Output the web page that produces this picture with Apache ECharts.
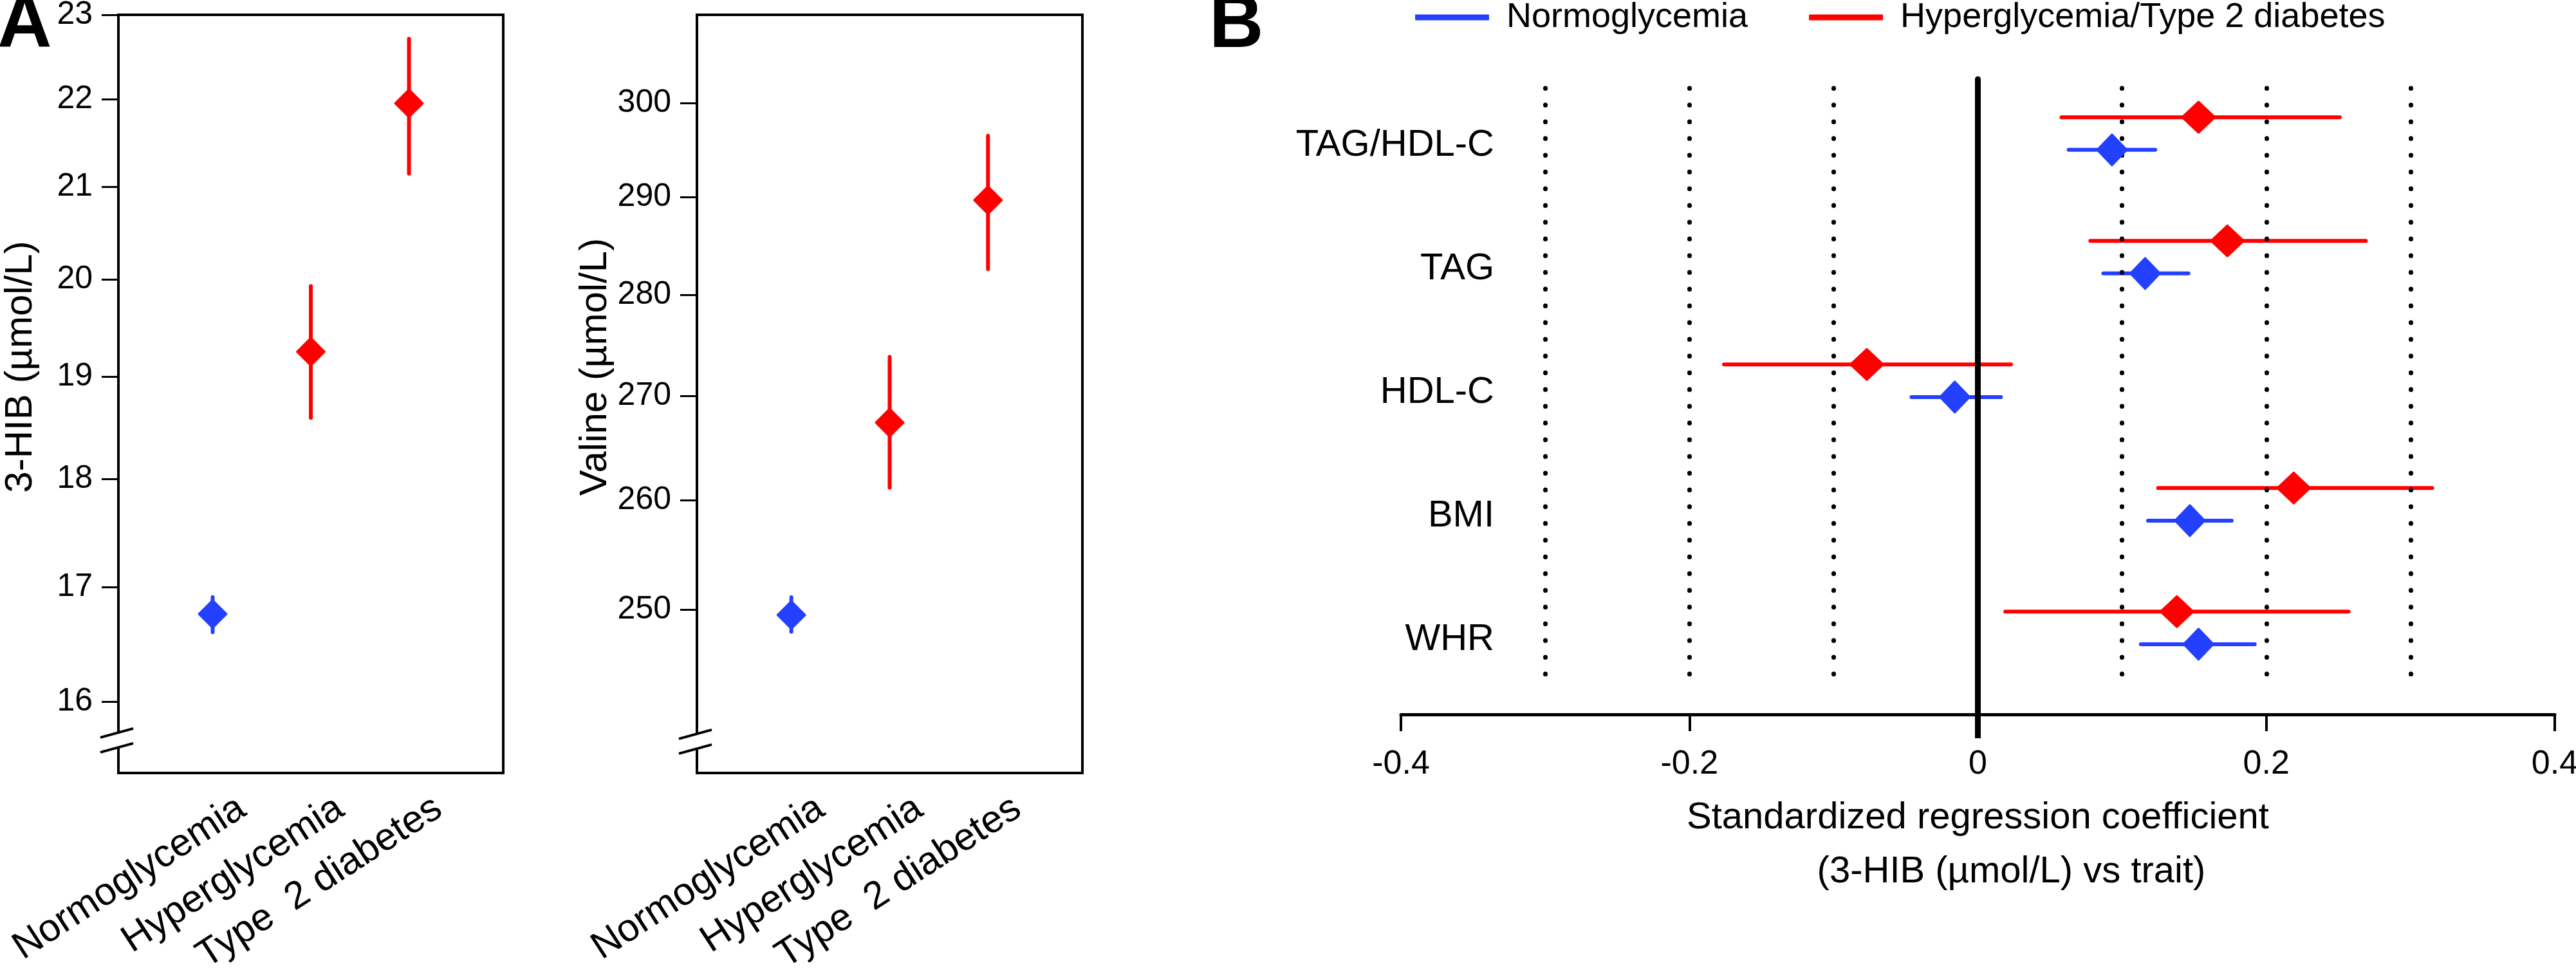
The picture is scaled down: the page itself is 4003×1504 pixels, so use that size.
<!DOCTYPE html>
<html><head><meta charset="utf-8">
<script src="https://cdn.jsdelivr.net/npm/echarts@6/dist/echarts.min.js"></script>
<style>html,body{margin:0;padding:0;background:#fff}#c{width:4003px;height:1504px}</style>
</head><body><div id="c"></div>
<script>
// ---------------- data ----------------
const groupsA = ['Normoglycemia', 'Hyperglycemia', 'Type  2 diabetes'];
const hibMean = [16.76, 19.25, 21.95];
const hibLo   = [16.60, 18.59, 21.15];
const hibHi   = [16.91, 19.93, 22.71];
const hibTicks = [16, 17, 18, 19, 20, 21, 22, 23];
const valMean = [249.5, 267.4, 289.7];
const valLo   = [248.0, 261.2, 282.6];
const valHi   = [251.1, 273.8, 296.5];
const valTicks = [250, 260, 270, 280, 290, 300];
const groupColorIdx = [0, 1, 1]; // 0 = normoglycemia colour, 1 = hyperglycemia colour

const traitsB = ['TAG/HDL-C', 'TAG', 'HDL-C', 'BMI', 'WHR'];
const normoEst = [0.093, 0.116, -0.016, 0.147, 0.153];
const normoLo  = [0.063, 0.087, -0.046, 0.118, 0.113];
const normoHi  = [0.123, 0.146, 0.016, 0.176, 0.192];
const hyperEst = [0.153, 0.173, -0.077, 0.219, 0.138];
const hyperLo  = [0.058, 0.078, -0.176, 0.125, 0.019];
const hyperHi  = [0.251, 0.269, 0.023, 0.315, 0.257];
const ticksB = [-0.4, -0.2, 0, 0.2, 0.4];
const refLinesB = [-0.3, -0.2, -0.1, 0.1, 0.2, 0.3];
const seriesNamesB = ['Normoglycemia', 'Hyperglycemia/Type 2 diabetes'];

// ---------------- style / layout ----------------
const BLUE = '#2340FF', RED = '#FF0000', BLACK = '#000';
const COLORS = [BLUE, RED];
const FONT = '"Liberation Sans", Arial, Helvetica, sans-serif';
const X_MIN_A = 0.04, X_MAX_A = 3.96, LABEL_SHIFT = 0.30;
const ROW_OFF = 0.132;       // vertical offset of the two groups inside a row (panel B)
const ROW_LABEL_DY = 0.094;  // row labels sit slightly below the row centre
const Y_MIN_B = 0.56, Y_MAX_B = 5.70, DOT_TOP = 0.633, DOT_BOT = 5.503;

function errBarV() {
  return function (params, api) {
    const x = api.value(0);
    const p1 = api.coord([x, api.value(1)]);
    const p2 = api.coord([x, api.value(2)]);
    const c = COLORS[api.value(3)];
    return {type: 'line', shape: {x1: p1[0], y1: p1[1], x2: p2[0], y2: p2[1]},
            style: {stroke: c, lineWidth: 6, lineCap: 'round'}};
  };
}
function errBarH(color) {
  return function (params, api) {
    const y = api.value(2);
    const p1 = api.coord([api.value(0), y]);
    const p2 = api.coord([api.value(1), y]);
    return {type: 'line', shape: {x1: p1[0], y1: p1[1], x2: p2[0], y2: p2[1]},
            style: {stroke: color, lineWidth: 6, lineCap: 'round'}};
  };
}

function catAxis(gridIndex) {
  return {
    type: 'value', gridIndex, min: X_MIN_A, max: X_MAX_A, position: 'bottom',
    axisLine: {show: false, onZero: false}, axisTick: {show: false}, splitLine: {show: false},
    axisLabel: {
      customValues: groupsA.map((g, i) => i + 1 + LABEL_SHIFT),
      formatter: v => groupsA[Math.round(v - LABEL_SHIFT) - 1],
      rotate: 33, margin: 50, fontSize: 60, fontFamily: FONT, color: BLACK
    }
  };
}
function logAxis(gridIndex, min, max, ticks, name) {
  return {
    type: 'log', logBase: 10, gridIndex, min, max, position: 'left',
    name, nameLocation: 'middle', nameGap: 122,
    nameTextStyle: {fontSize: 60, fontFamily: FONT, color: BLACK, padding: [0, 0, 0, 84]},
    axisLine: {show: false, onZero: false},
    axisTick: {show: true, customValues: ticks, length: 26, lineStyle: {color: BLACK, width: 3}},
    axisLabel: {customValues: ticks, formatter: v => String(Math.round(v)), margin: 40,
                fontSize: 50, fontFamily: FONT, color: BLACK},
    splitLine: {show: false}
  };
}
function diamondStyle(c) {
  return {color: c, borderColor: c, borderWidth: 3, borderJoin: 'round', opacity: 1};
}

const option = {
  animation: false,
  backgroundColor: '#fff',
  grid: [
    {left: 184, top: 23, width: 598, height: 1178, show: true, borderColor: BLACK, borderWidth: 4, backgroundColor: 'transparent', outerBoundsMode: 'none'},
    {left: 1083, top: 23, width: 599, height: 1178, show: true, borderColor: BLACK, borderWidth: 4, backgroundColor: 'transparent', outerBoundsMode: 'none'},
    {left: 2177, top: 123, width: 1793, height: 987, show: false, outerBoundsMode: 'none'}
  ],
  legend: {
    left: 2199, top: 0, padding: 0, itemWidth: 113, itemHeight: 7, itemGap: 95, icon: 'rect',
    selectedMode: false, data: seriesNamesB,
    textStyle: {fontSize: 54, fontFamily: FONT, color: BLACK, padding: [0, 0, 0, 23]}
  },
  xAxis: [
    catAxis(0),
    catAxis(1),
    {
      type: 'value', gridIndex: 2, min: -0.4, max: 0.4, interval: 0.2, position: 'bottom',
      axisLine: {show: true, onZero: false, lineStyle: {color: BLACK, width: 5}},
      axisTick: {show: true, length: 26, lineStyle: {color: BLACK, width: 4}},
      axisLabel: {margin: 52, fontSize: 52, fontFamily: FONT, color: BLACK,
                  customValues: ticksB, formatter: v => (Math.abs(v) < 1e-9 ? '0' : String(+v.toFixed(1)))},
      splitLine: {show: false},
      name: '{a|Standardized regression coefficient}\n{b|(3-HIB (µmol/L) vs trait)}',
      nameLocation: 'middle', nameGap: 119,
      nameTextStyle: {
        fontFamily: FONT, color: BLACK,
        rich: {
          a: {fontSize: 58, fontFamily: FONT, color: BLACK, lineHeight: 84},
          b: {fontSize: 58, fontFamily: FONT, color: BLACK, lineHeight: 84, padding: [0, 0, 0, 104]}
        }
      }
    },
    {
      type: 'value', gridIndex: 2, min: -0.4, max: 0.4, position: 'bottom',
      axisLine: {show: false, onZero: false},
      axisTick: {show: true, customValues: [0], length: 37, lineStyle: {color: BLACK, width: 9}},
      axisLabel: {show: false}, splitLine: {show: false}
    }
  ],
  yAxis: [
    logAxis(0, 15.41, 23, hibTicks, '3-HIB (µmol/L)'),
    logAxis(1, 235.7, 309.7, valTicks, 'Valine (µmol/L)'),
    {
      type: 'value', gridIndex: 2, min: Y_MIN_B, max: Y_MAX_B, inverse: true, position: 'left',
      axisLine: {show: false, onZero: false}, axisTick: {show: false}, splitLine: {show: false},
      axisLabel: {customValues: traitsB.map((t, i) => i + 1 + ROW_LABEL_DY),
                  formatter: v => traitsB[Math.round(v - ROW_LABEL_DY) - 1],
                  margin: -145, fontSize: 58, fontFamily: FONT, color: BLACK}
    }
  ],
  series: [
    // Panel A, 3-HIB
    {type: 'custom', name: 'hibBars', xAxisIndex: 0, yAxisIndex: 0, renderItem: errBarV(), z: 2,
     encode: {x: 0, y: [1, 2]},
     data: groupsA.map((g, i) => [i + 1, hibLo[i], hibHi[i], groupColorIdx[i]])},
    {type: 'scatter', name: 'hibMeans', xAxisIndex: 0, yAxisIndex: 0, symbol: 'diamond', symbolSize: [43, 43], z: 3,
     data: groupsA.map((g, i) => ({value: [i + 1, hibMean[i]], itemStyle: diamondStyle(COLORS[groupColorIdx[i]])}))},
    // Panel A, valine
    {type: 'custom', name: 'valBars', xAxisIndex: 1, yAxisIndex: 1, renderItem: errBarV(), z: 2,
     encode: {x: 0, y: [1, 2]},
     data: groupsA.map((g, i) => [i + 1, valLo[i], valHi[i], groupColorIdx[i]])},
    {type: 'scatter', name: 'valMeans', xAxisIndex: 1, yAxisIndex: 1, symbol: 'diamond', symbolSize: [43, 43], z: 3,
     data: groupsA.map((g, i) => ({value: [i + 1, valMean[i]], itemStyle: diamondStyle(COLORS[groupColorIdx[i]])}))},
    // Panel B reference lines
    {type: 'custom', name: 'refLines', xAxisIndex: 2, yAxisIndex: 2, data: [], renderItem: () => null,
     markLine: {
       silent: true, symbol: 'none', label: {show: false}, animation: false,
       data: refLinesB.map(x => [
         {coord: [x, DOT_TOP], lineStyle: {color: BLACK, width: 7, type: [0.5, 25.5], cap: 'round'}},
         {coord: [x, DOT_BOT]}
       ]).concat([[
         {coord: [0, Y_MIN_B], lineStyle: {color: BLACK, width: 9, type: 'solid', cap: 'round'}},
         {coord: [0, Y_MAX_B]}
       ]])
     }},
    // Panel B groups
    {type: 'custom', name: 'normoBars', xAxisIndex: 2, yAxisIndex: 2, renderItem: errBarH(BLUE), z: 4,
     encode: {x: [0, 1], y: 2},
     data: traitsB.map((t, i) => [normoLo[i], normoHi[i], i + 1 + ROW_OFF])},
    {type: 'scatter', name: seriesNamesB[0], xAxisIndex: 2, yAxisIndex: 2, symbol: 'diamond', symbolSize: [46, 48], z: 5,
     itemStyle: diamondStyle(BLUE),
     data: traitsB.map((t, i) => [normoEst[i], i + 1 + ROW_OFF])},
    {type: 'custom', name: 'hyperBars', xAxisIndex: 2, yAxisIndex: 2, renderItem: errBarH(RED), z: 4,
     encode: {x: [0, 1], y: 2},
     data: traitsB.map((t, i) => [hyperLo[i], hyperHi[i], i + 1 - ROW_OFF])},
    {type: 'scatter', name: seriesNamesB[1], xAxisIndex: 2, yAxisIndex: 2, symbol: 'diamond', symbolSize: [51, 48], z: 5,
     itemStyle: diamondStyle(RED),
     data: traitsB.map((t, i) => [hyperEst[i], i + 1 - ROW_OFF])}
  ]
};

const chart = echarts.init(document.getElementById('c'), null, {renderer: 'canvas'});
chart.setOption(option);

// axis-break marks ("//") and panel letters
function breakMark(gridIndex, value) {
  const p = chart.convertToPixel({gridIndex}, [X_MIN_A, value]);
  const x = p[0], y = p[1];
  return [
    {type: 'rect', shape: {x: x - 6, y: y - 11, width: 12, height: 22}, style: {fill: '#fff'}, z: 100},
    {type: 'line', shape: {x1: x - 28, y1: y - 4, x2: x + 23, y2: y - 18}, style: {stroke: BLACK, lineWidth: 4}, z: 101},
    {type: 'line', shape: {x1: x - 28, y1: y + 19, x2: x + 23, y2: y + 5}, style: {stroke: BLACK, lineWidth: 4}, z: 101}
  ];
}
chart.setOption({
  graphic: [].concat(
    breakMark(0, 15.68),
    breakMark(1, 238.4),
    [
      {type: 'text', left: -4, top: -18, z: 100, style: {text: 'A', font: 'bold 117px ' + FONT, fill: BLACK}},
      {type: 'text', left: 1879, top: -18, z: 100, style: {text: 'B', font: 'bold 117px ' + FONT, fill: BLACK}}
    ]
  )
});
</script></body></html>
